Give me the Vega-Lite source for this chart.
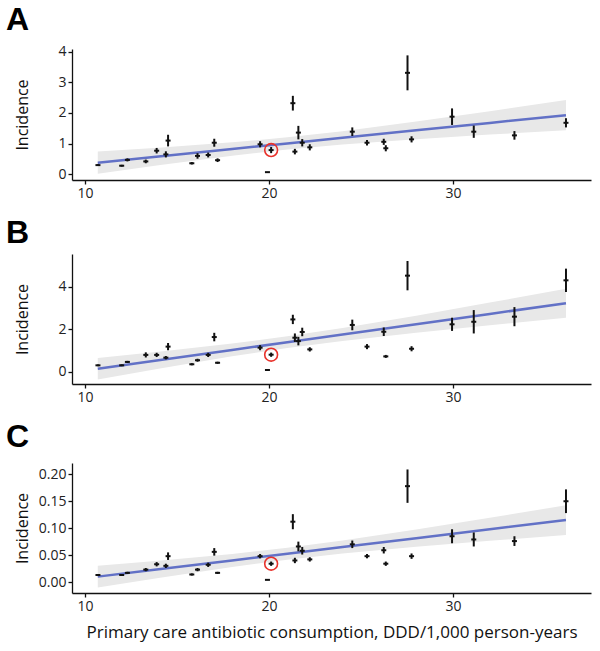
{
  "$schema": "https://vega.github.io/schema/vega-lite/v6.json",
  "padding": {"left": 6, "top": 4, "right": 5, "bottom": 5},
  "spacing": 17,
  "config": {
    "view": {"stroke": null},
    "font": "Open Sans",
    "axis": {"grid": false, "domainColor": "#111", "tickColor": "#111", "labelColor": "#222", "labelFontSize": 14, "titleFontSize": 16, "titleFontWeight": "normal", "titleColor": "#111", "tickSize": 4, "domainWidth": 1.3, "tickWidth": 1.3, "labelFont": "Open Sans", "titleFont": "Open Sans", "labelPadding": 2, "labelOverlap": false},
    "title": {"font": "Liberation Sans", "fontSize": 32, "fontWeight": "bold", "anchor": "start", "frame": "group", "color": "#000", "baseline": "alphabetic"}
  },
  "datasets": {
    "pts": [
      {"p": "A", "x": 10.71, "y": 0.30, "lo": 0.27, "hi": 0.33},
      {"p": "A", "x": 12.0, "y": 0.28, "lo": 0.25, "hi": 0.31},
      {"p": "A", "x": 12.31, "y": 0.47, "lo": 0.42, "hi": 0.52},
      {"p": "A", "x": 13.31, "y": 0.42, "lo": 0.36, "hi": 0.48},
      {"p": "A", "x": 13.9, "y": 0.77, "lo": 0.68, "hi": 0.86},
      {"p": "A", "x": 14.4, "y": 0.65, "lo": 0.55, "hi": 0.75},
      {"p": "A", "x": 14.52, "y": 1.10, "lo": 0.91, "hi": 1.29},
      {"p": "A", "x": 15.81, "y": 0.36, "lo": 0.32, "hi": 0.40},
      {"p": "A", "x": 16.12, "y": 0.60, "lo": 0.51, "hi": 0.69},
      {"p": "A", "x": 16.7, "y": 0.63, "lo": 0.55, "hi": 0.71},
      {"p": "A", "x": 17.03, "y": 1.03, "lo": 0.90, "hi": 1.16},
      {"p": "A", "x": 17.21, "y": 0.46, "lo": 0.40, "hi": 0.52},
      {"p": "A", "x": 19.52, "y": 0.98, "lo": 0.88, "hi": 1.08},
      {"p": "A", "x": 19.92, "y": 0.07, "lo": 0.07, "hi": 0.07},
      {"p": "A", "x": 20.12, "y": 0.79, "lo": 0.69, "hi": 0.89},
      {"p": "A", "x": 21.3, "y": 2.32, "lo": 2.08, "hi": 2.56},
      {"p": "A", "x": 21.41, "y": 0.74, "lo": 0.65, "hi": 0.83},
      {"p": "A", "x": 21.6, "y": 1.36, "lo": 1.14, "hi": 1.58},
      {"p": "A", "x": 21.81, "y": 1.03, "lo": 0.91, "hi": 1.15},
      {"p": "A", "x": 22.22, "y": 0.88, "lo": 0.78, "hi": 0.98},
      {"p": "A", "x": 24.53, "y": 1.39, "lo": 1.25, "hi": 1.53},
      {"p": "A", "x": 25.33, "y": 1.03, "lo": 0.94, "hi": 1.12},
      {"p": "A", "x": 26.24, "y": 1.06, "lo": 0.96, "hi": 1.16},
      {"p": "A", "x": 26.35, "y": 0.85, "lo": 0.75, "hi": 0.95},
      {"p": "A", "x": 27.53, "y": 3.31, "lo": 2.74, "hi": 3.88},
      {"p": "A", "x": 27.75, "y": 1.14, "lo": 1.04, "hi": 1.24},
      {"p": "A", "x": 29.95, "y": 1.88, "lo": 1.61, "hi": 2.15},
      {"p": "A", "x": 31.13, "y": 1.39, "lo": 1.19, "hi": 1.59},
      {"p": "A", "x": 33.34, "y": 1.27, "lo": 1.13, "hi": 1.41},
      {"p": "A", "x": 36.14, "y": 1.68, "lo": 1.53, "hi": 1.83},
      {"p": "B", "x": 10.71, "y": 0.30, "lo": 0.26, "hi": 0.34},
      {"p": "B", "x": 12.0, "y": 0.30, "lo": 0.26, "hi": 0.34},
      {"p": "B", "x": 12.31, "y": 0.46, "lo": 0.41, "hi": 0.51},
      {"p": "B", "x": 13.31, "y": 0.79, "lo": 0.67, "hi": 0.91},
      {"p": "B", "x": 13.9, "y": 0.79, "lo": 0.69, "hi": 0.89},
      {"p": "B", "x": 14.4, "y": 0.66, "lo": 0.58, "hi": 0.74},
      {"p": "B", "x": 14.52, "y": 1.18, "lo": 1.01, "hi": 1.35},
      {"p": "B", "x": 15.81, "y": 0.35, "lo": 0.30, "hi": 0.40},
      {"p": "B", "x": 16.12, "y": 0.54, "lo": 0.47, "hi": 0.61},
      {"p": "B", "x": 16.7, "y": 0.79, "lo": 0.69, "hi": 0.89},
      {"p": "B", "x": 17.03, "y": 1.63, "lo": 1.43, "hi": 1.83},
      {"p": "B", "x": 17.21, "y": 0.42, "lo": 0.37, "hi": 0.47},
      {"p": "B", "x": 19.52, "y": 1.13, "lo": 1.01, "hi": 1.25},
      {"p": "B", "x": 19.92, "y": 0.08, "lo": 0.08, "hi": 0.08},
      {"p": "B", "x": 20.12, "y": 0.80, "lo": 0.70, "hi": 0.90},
      {"p": "B", "x": 21.3, "y": 2.46, "lo": 2.24, "hi": 2.68},
      {"p": "B", "x": 21.41, "y": 1.60, "lo": 1.40, "hi": 1.80},
      {"p": "B", "x": 21.6, "y": 1.44, "lo": 1.24, "hi": 1.64},
      {"p": "B", "x": 21.81, "y": 1.87, "lo": 1.67, "hi": 2.07},
      {"p": "B", "x": 22.22, "y": 1.05, "lo": 0.95, "hi": 1.15},
      {"p": "B", "x": 24.53, "y": 2.20, "lo": 1.95, "hi": 2.45},
      {"p": "B", "x": 25.33, "y": 1.18, "lo": 1.06, "hi": 1.30},
      {"p": "B", "x": 26.24, "y": 1.88, "lo": 1.68, "hi": 2.08},
      {"p": "B", "x": 26.35, "y": 0.72, "lo": 0.65, "hi": 0.79},
      {"p": "B", "x": 27.53, "y": 4.52, "lo": 3.83, "hi": 5.21},
      {"p": "B", "x": 27.75, "y": 1.08, "lo": 0.96, "hi": 1.20},
      {"p": "B", "x": 29.95, "y": 2.23, "lo": 1.92, "hi": 2.54},
      {"p": "B", "x": 31.13, "y": 2.35, "lo": 1.80, "hi": 2.90},
      {"p": "B", "x": 33.34, "y": 2.59, "lo": 2.14, "hi": 3.04},
      {"p": "B", "x": 36.14, "y": 4.30, "lo": 3.75, "hi": 4.85},
      {"p": "C", "x": 10.71, "y": 0.013, "lo": 0.012, "hi": 0.014},
      {"p": "C", "x": 12.0, "y": 0.013, "lo": 0.012, "hi": 0.014},
      {"p": "C", "x": 12.31, "y": 0.017, "lo": 0.015, "hi": 0.019},
      {"p": "C", "x": 13.31, "y": 0.023, "lo": 0.020, "hi": 0.026},
      {"p": "C", "x": 13.9, "y": 0.033, "lo": 0.029, "hi": 0.037},
      {"p": "C", "x": 14.4, "y": 0.030, "lo": 0.026, "hi": 0.034},
      {"p": "C", "x": 14.52, "y": 0.048, "lo": 0.041, "hi": 0.055},
      {"p": "C", "x": 15.81, "y": 0.014, "lo": 0.012, "hi": 0.016},
      {"p": "C", "x": 16.12, "y": 0.023, "lo": 0.020, "hi": 0.026},
      {"p": "C", "x": 16.7, "y": 0.032, "lo": 0.028, "hi": 0.036},
      {"p": "C", "x": 17.03, "y": 0.056, "lo": 0.049, "hi": 0.063},
      {"p": "C", "x": 17.21, "y": 0.017, "lo": 0.015, "hi": 0.019},
      {"p": "C", "x": 19.52, "y": 0.048, "lo": 0.044, "hi": 0.052},
      {"p": "C", "x": 19.92, "y": 0.004, "lo": 0.004, "hi": 0.004},
      {"p": "C", "x": 20.12, "y": 0.034, "lo": 0.030, "hi": 0.038},
      {"p": "C", "x": 21.3, "y": 0.112, "lo": 0.098, "hi": 0.126},
      {"p": "C", "x": 21.41, "y": 0.040, "lo": 0.035, "hi": 0.045},
      {"p": "C", "x": 21.6, "y": 0.066, "lo": 0.057, "hi": 0.075},
      {"p": "C", "x": 21.81, "y": 0.058, "lo": 0.051, "hi": 0.065},
      {"p": "C", "x": 22.22, "y": 0.042, "lo": 0.038, "hi": 0.046},
      {"p": "C", "x": 24.53, "y": 0.070, "lo": 0.063, "hi": 0.077},
      {"p": "C", "x": 25.33, "y": 0.048, "lo": 0.044, "hi": 0.052},
      {"p": "C", "x": 26.24, "y": 0.059, "lo": 0.053, "hi": 0.065},
      {"p": "C", "x": 26.35, "y": 0.034, "lo": 0.030, "hi": 0.038},
      {"p": "C", "x": 27.53, "y": 0.178, "lo": 0.147, "hi": 0.209},
      {"p": "C", "x": 27.75, "y": 0.048, "lo": 0.043, "hi": 0.053},
      {"p": "C", "x": 29.95, "y": 0.085, "lo": 0.072, "hi": 0.098},
      {"p": "C", "x": 31.13, "y": 0.079, "lo": 0.066, "hi": 0.092},
      {"p": "C", "x": 33.34, "y": 0.076, "lo": 0.067, "hi": 0.085},
      {"p": "C", "x": 36.14, "y": 0.150, "lo": 0.128, "hi": 0.172}
    ],
    "fit": [
      {"p": "A", "x": 10.7, "fit": 0.38, "lo": 0.016, "hi": 0.744},
      {"p": "A", "x": 14, "fit": 0.581, "lo": 0.294, "hi": 0.868},
      {"p": "A", "x": 18, "fit": 0.825, "lo": 0.608, "hi": 1.042},
      {"p": "A", "x": 21, "fit": 1.007, "lo": 0.809, "hi": 1.205},
      {"p": "A", "x": 24, "fit": 1.19, "lo": 0.973, "hi": 1.407},
      {"p": "A", "x": 28, "fit": 1.434, "lo": 1.147, "hi": 1.721},
      {"p": "A", "x": 32, "fit": 1.677, "lo": 1.295, "hi": 2.059},
      {"p": "A", "x": 36.14, "fit": 1.93, "lo": 1.439, "hi": 2.421},
      {"p": "B", "x": 10.7, "fit": 0.14, "lo": -0.368, "hi": 0.648},
      {"p": "B", "x": 14, "fit": 0.54, "lo": 0.14, "hi": 0.94},
      {"p": "B", "x": 18, "fit": 1.024, "lo": 0.722, "hi": 1.326},
      {"p": "B", "x": 21, "fit": 1.387, "lo": 1.11, "hi": 1.664},
      {"p": "B", "x": 24, "fit": 1.751, "lo": 1.449, "hi": 2.053},
      {"p": "B", "x": 28, "fit": 2.235, "lo": 1.835, "hi": 2.635},
      {"p": "B", "x": 32, "fit": 2.719, "lo": 2.187, "hi": 3.251},
      {"p": "B", "x": 36.14, "fit": 3.22, "lo": 2.536, "hi": 3.904},
      {"p": "C", "x": 10.7, "fit": 0.010, "lo": -0.0104, "hi": 0.0304},
      {"p": "C", "x": 14, "fit": 0.0236, "lo": 0.0076, "hi": 0.0396},
      {"p": "C", "x": 18, "fit": 0.0401, "lo": 0.028, "hi": 0.0522},
      {"p": "C", "x": 21, "fit": 0.0525, "lo": 0.0414, "hi": 0.0636},
      {"p": "C", "x": 24, "fit": 0.0649, "lo": 0.0528, "hi": 0.077},
      {"p": "C", "x": 28, "fit": 0.0814, "lo": 0.0654, "hi": 0.0974},
      {"p": "C", "x": 32, "fit": 0.0979, "lo": 0.0765, "hi": 0.1193},
      {"p": "C", "x": 36.14, "fit": 0.115, "lo": 0.0875, "hi": 0.1425}
    ]
  },
  "vconcat": [
    {
      "width": 519, "height": 131,
      "title": {"text": "A", "dx": -66, "offset": 7.5},
      "encoding": {
        "x": {"field": "x", "type": "quantitative", "scale": {"domain": [9.3, 37.5], "nice": false, "zero": false}, "axis": {"values": [10, 20, 30], "title": null}}
      },
      "layer": [
        {"data": {"name": "fit"}, "transform": [{"filter": "datum.p === 'A'"}], "mark": {"type": "area", "color": "#e8e8e8"},
         "encoding": {"y": {"field": "lo", "type": "quantitative", "scale": {"domain": [-0.186, 4.088], "nice": false, "zero": false}, "axis": {"values": [0, 1, 2, 3, 4], "title": "Incidence", "titleX": -50, "titleY": 65.5, "titleBaseline": "middle"}}, "y2": {"field": "hi"}}},
        {"data": {"name": "fit"}, "transform": [{"filter": "datum.p === 'A'"}], "mark": {"type": "line", "color": "#6271c6", "strokeWidth": 2.5},
         "encoding": {"y": {"field": "fit", "type": "quantitative", "scale": {"domain": [-0.186, 4.088], "nice": false, "zero": false}, "axis": {"values": [0, 1, 2, 3, 4], "title": "Incidence", "titleX": -50, "titleY": 65.5, "titleBaseline": "middle"}}}},
        {"data": {"name": "pts"}, "transform": [{"filter": "datum.p === 'A'"}], "mark": {"type": "rule", "color": "#111", "strokeWidth": 2},
         "encoding": {"y": {"field": "lo", "type": "quantitative", "scale": {"domain": [-0.186, 4.088], "nice": false, "zero": false}, "axis": {"values": [0, 1, 2, 3, 4], "title": "Incidence", "titleX": -50, "titleY": 65.5, "titleBaseline": "middle"}}, "y2": {"field": "hi"}}},
        {"data": {"name": "pts"}, "transform": [{"filter": "datum.p === 'A'"}], "mark": {"type": "tick", "orient": "horizontal", "size": 5, "thickness": 2, "color": "#111", "opacity": 1},
         "encoding": {"y": {"field": "y", "type": "quantitative", "scale": {"domain": [-0.186, 4.088], "nice": false, "zero": false}, "axis": {"values": [0, 1, 2, 3, 4], "title": "Incidence", "titleX": -50, "titleY": 65.5, "titleBaseline": "middle"}}}},
        {"data": {"name": "pts"}, "transform": [{"filter": "datum.p === 'A' && datum.x === 20.12"}], "mark": {"type": "point", "shape": "circle", "filled": false, "size": 165, "color": "#e8312a", "strokeWidth": 1.6, "opacity": 1},
         "encoding": {"y": {"field": "y", "type": "quantitative", "scale": {"domain": [-0.186, 4.088], "nice": false, "zero": false}, "axis": {"values": [0, 1, 2, 3, 4], "title": "Incidence", "titleX": -50, "titleY": 65.5, "titleBaseline": "middle"}}}}
      ]
    },
    {
      "width": 519, "height": 130,
      "title": {"text": "B", "dx": -66, "offset": 4},
      "encoding": {
        "x": {"field": "x", "type": "quantitative", "scale": {"domain": [9.3, 37.5], "nice": false, "zero": false}, "axis": {"values": [10, 20, 30], "title": null}}
      },
      "layer": [
        {"data": {"name": "fit"}, "transform": [{"filter": "datum.p === 'B'"}], "mark": {"type": "area", "color": "#e8e8e8"},
         "encoding": {"y": {"field": "lo", "type": "quantitative", "scale": {"domain": [-0.579, 5.539], "nice": false, "zero": false}, "axis": {"values": [0, 2, 4], "title": "Incidence", "titleX": -50, "titleY": 65, "titleBaseline": "middle"}}, "y2": {"field": "hi"}}},
        {"data": {"name": "fit"}, "transform": [{"filter": "datum.p === 'B'"}], "mark": {"type": "line", "color": "#6271c6", "strokeWidth": 2.5},
         "encoding": {"y": {"field": "fit", "type": "quantitative", "scale": {"domain": [-0.579, 5.539], "nice": false, "zero": false}, "axis": {"values": [0, 2, 4], "title": "Incidence", "titleX": -50, "titleY": 65, "titleBaseline": "middle"}}}},
        {"data": {"name": "pts"}, "transform": [{"filter": "datum.p === 'B'"}], "mark": {"type": "rule", "color": "#111", "strokeWidth": 2},
         "encoding": {"y": {"field": "lo", "type": "quantitative", "scale": {"domain": [-0.579, 5.539], "nice": false, "zero": false}, "axis": {"values": [0, 2, 4], "title": "Incidence", "titleX": -50, "titleY": 65, "titleBaseline": "middle"}}, "y2": {"field": "hi"}}},
        {"data": {"name": "pts"}, "transform": [{"filter": "datum.p === 'B'"}], "mark": {"type": "tick", "orient": "horizontal", "size": 5, "thickness": 2, "color": "#111", "opacity": 1},
         "encoding": {"y": {"field": "y", "type": "quantitative", "scale": {"domain": [-0.579, 5.539], "nice": false, "zero": false}, "axis": {"values": [0, 2, 4], "title": "Incidence", "titleX": -50, "titleY": 65, "titleBaseline": "middle"}}}},
        {"data": {"name": "pts"}, "transform": [{"filter": "datum.p === 'B' && datum.x === 20.12"}], "mark": {"type": "point", "shape": "circle", "filled": false, "size": 165, "color": "#e8312a", "strokeWidth": 1.6, "opacity": 1},
         "encoding": {"y": {"field": "y", "type": "quantitative", "scale": {"domain": [-0.579, 5.539], "nice": false, "zero": false}, "axis": {"values": [0, 2, 4], "title": "Incidence", "titleX": -50, "titleY": 65, "titleBaseline": "middle"}}}}
      ]
    },
    {
      "width": 519, "height": 130,
      "title": {"text": "C", "dx": -66, "offset": 8.7},
      "encoding": {
        "x": {"field": "x", "type": "quantitative", "scale": {"domain": [9.3, 37.5], "nice": false, "zero": false}, "axis": {"values": [10, 20, 30], "title": "Primary care antibiotic consumption, DDD/1,000 person-years", "titlePadding": 11, "titleFontSize": 17}}
      },
      "layer": [
        {"data": {"name": "fit"}, "transform": [{"filter": "datum.p === 'C'"}], "mark": {"type": "area", "color": "#e8e8e8"},
         "encoding": {"y": {"field": "lo", "type": "quantitative", "scale": {"domain": [-0.0204, 0.221], "nice": false, "zero": false}, "axis": {"values": [0, 0.05, 0.1, 0.15, 0.2], "format": ".2f", "title": "Incidence", "titleX": -50, "titleY": 65, "titleBaseline": "middle"}}, "y2": {"field": "hi"}}},
        {"data": {"name": "fit"}, "transform": [{"filter": "datum.p === 'C'"}], "mark": {"type": "line", "color": "#6271c6", "strokeWidth": 2.5},
         "encoding": {"y": {"field": "fit", "type": "quantitative", "scale": {"domain": [-0.0204, 0.221], "nice": false, "zero": false}, "axis": {"values": [0, 0.05, 0.1, 0.15, 0.2], "format": ".2f", "title": "Incidence", "titleX": -50, "titleY": 65, "titleBaseline": "middle"}}}},
        {"data": {"name": "pts"}, "transform": [{"filter": "datum.p === 'C'"}], "mark": {"type": "rule", "color": "#111", "strokeWidth": 2},
         "encoding": {"y": {"field": "lo", "type": "quantitative", "scale": {"domain": [-0.0204, 0.221], "nice": false, "zero": false}, "axis": {"values": [0, 0.05, 0.1, 0.15, 0.2], "format": ".2f", "title": "Incidence", "titleX": -50, "titleY": 65, "titleBaseline": "middle"}}, "y2": {"field": "hi"}}},
        {"data": {"name": "pts"}, "transform": [{"filter": "datum.p === 'C'"}], "mark": {"type": "tick", "orient": "horizontal", "size": 5, "thickness": 2, "color": "#111", "opacity": 1},
         "encoding": {"y": {"field": "y", "type": "quantitative", "scale": {"domain": [-0.0204, 0.221], "nice": false, "zero": false}, "axis": {"values": [0, 0.05, 0.1, 0.15, 0.2], "format": ".2f", "title": "Incidence", "titleX": -50, "titleY": 65, "titleBaseline": "middle"}}}},
        {"data": {"name": "pts"}, "transform": [{"filter": "datum.p === 'C' && datum.x === 20.12"}], "mark": {"type": "point", "shape": "circle", "filled": false, "size": 165, "color": "#e8312a", "strokeWidth": 1.6, "opacity": 1},
         "encoding": {"y": {"field": "y", "type": "quantitative", "scale": {"domain": [-0.0204, 0.221], "nice": false, "zero": false}, "axis": {"values": [0, 0.05, 0.1, 0.15, 0.2], "format": ".2f", "title": "Incidence", "titleX": -50, "titleY": 65, "titleBaseline": "middle"}}}}
      ]
    }
  ]
}
